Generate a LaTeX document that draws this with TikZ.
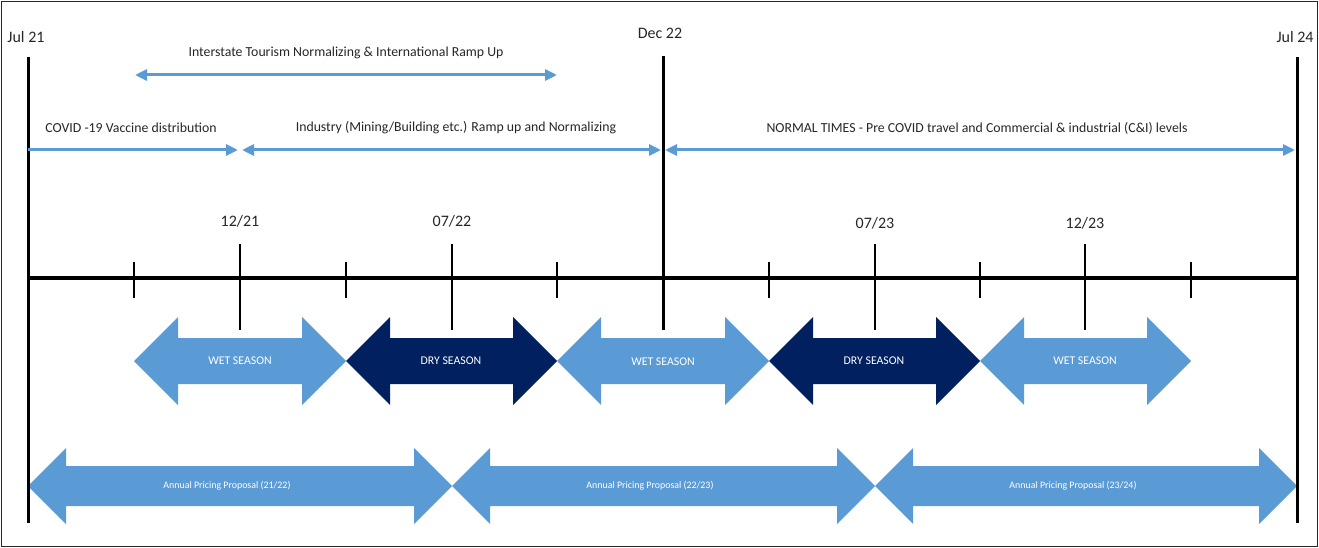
\documentclass[tikz,border=0pt]{standalone}
\usepackage{fontspec}
\setmainfont{Carlito}
\usetikzlibrary{arrows.meta}
\definecolor{lblue}{HTML}{5B9BD5}
\definecolor{navy}{HTML}{002060}
\definecolor{txt}{HTML}{262626}
\newcommand{\dblarr}[7]{% x1 x2 yc headhalf shafthalf headlen color
  \fill[#7] (#1,#3) -- ({#1+#6},{#3-#4}) -- ({#1+#6},{#3-#5}) -- ({#2-#6},{#3-#5}) -- ({#2-#6},{#3-#4})
    -- (#2,#3) -- ({#2-#6},{#3+#4}) -- ({#2-#6},{#3+#5}) -- ({#1+#6},{#3+#5}) -- ({#1+#6},{#3+#4}) -- cycle;}
\tikzset{
  x=1pt, y=-1pt,
  vline/.style={line width=3pt, black},
  major/.style={line width=2.6pt, black},
  minor/.style={line width=1.8pt, black},
  axis/.style={line width=4pt, black},
  blu/.style={line width=3pt, lblue},
  tip/.style={-{Triangle[length=12pt,width=11pt]}},
  tips/.style={{Triangle[length=12pt,width=11pt]}-{Triangle[length=12pt,width=11pt]}},
  datelbl/.style={text=txt, font=\fontsize{16}{18}\selectfont, inner sep=0pt},
  lbl/.style={text=txt, font=\fontsize{13.8}{15}\selectfont, inner sep=0pt},
  seas/.style={text=white, font=\fontsize{11.8}{13}\selectfont, inner sep=0pt},
  ann/.style={text=white, font=\fontsize{9.9}{11}\selectfont, inner sep=0pt}
}
\begin{document}
\begin{tikzpicture}
\useasboundingbox (0,0) rectangle (1319,548);
\draw[line width=1.6pt, black!85] (1.5,1.5) rectangle (1317.5,546.5);

% season arrows
\dblarr{134}{346}{361}{44}{23}{44}{lblue}
\dblarr{346}{557}{361}{44}{23}{44}{navy}
\dblarr{557}{769}{361}{44}{23}{44}{lblue}
\dblarr{769}{980}{361}{44}{23}{44}{navy}
\dblarr{980}{1191}{361}{44}{23}{44}{lblue}
\node[seas] (w1) at (240,361) {WET SEASON};
\node[seas] (d1) at (451,361) {DRY SEASON};
\node[seas] (w2) at (663,362) {WET SEASON};
\node[seas] (d2) at (874,361) {DRY SEASON};
\node[seas] (w3) at (1085,361) {WET SEASON};

% annual pricing arrows
\dblarr{28}{452}{486}{38}{20}{38}{lblue}
\dblarr{452}{875}{486}{38}{20}{38}{lblue}
\dblarr{875}{1297}{486}{38}{20}{38}{lblue}
\node[ann] (a1) at (227,486) {Annual Pricing Proposal (21/22)};
\node[ann] (a2) at (650,486) {Annual Pricing Proposal (22/23)};
\node[ann] (a3) at (1073,486) {Annual Pricing Proposal (23/24)};

% coordinates
\coordinate (jt) at (28,57);   \coordinate (jb) at (28,523);
\coordinate (dt) at (663,56);  \coordinate (db) at (663,330);
\coordinate (et) at (1297,57); \coordinate (eb) at (1297,523);
\coordinate (ax0) at (28,278); \coordinate (ax1) at (1297,278);

% axis and ticks
\draw[axis] (ax0) -- (ax1);
\foreach \x in {134,346,557,769,980,1191} \draw[minor] (\x,262) -- (\x,298);
\foreach \x in {240,452,875,1085} \draw[major] (\x,244) -- (\x,330);

% main verticals
\draw[vline] (jt) -- (jb);
\draw[vline] (dt) -- (db);
\draw[vline] (et) -- (eb);

% date labels
\node[datelbl] (l1) at (26,37) {Jul 21};
\node[datelbl] (l2) at (660,33) {Dec 22};
\node[datelbl] (l3) at (1295,37) {Jul 24};
\node[datelbl] (m1) at (240,221) {12/21};
\node[datelbl] (m2) at (452,221) {07/22};
\node[datelbl] (m3) at (875,223) {07/23};
\node[datelbl] (m4) at (1085,223) {12/23};

% top blue arrows
\coordinate (t1) at (135,75); \coordinate (t2) at (557,75);
\coordinate (c0) at (28,150); \coordinate (c1) at (238,150);
\coordinate (i0) at (242,150); \coordinate (i1) at (661,150);
\coordinate (n0) at (665,150); \coordinate (n1) at (1295,150);
\draw[blu, tips] (t1) -- (t2);
\draw[blu, tip] (c0) -- (c1);
\draw[blu, tips] (i0) -- (i1);
\draw[blu, tips] (n0) -- (n1);
\node[lbl] (tour) at (346,53) {Interstate Tourism Normalizing \& International Ramp Up};
\node[lbl] (covid) at (131,128) {COVID -19 Vaccine distribution};
\node[lbl] (ind) at (456,128) {Industry (Mining/Building etc.) Ramp up and Normalizing};
\node[lbl] (norm) at (977,128) {NORMAL TIMES - Pre COVID travel and Commercial \& industrial (C\&I) levels};
\end{tikzpicture}
\end{document}
